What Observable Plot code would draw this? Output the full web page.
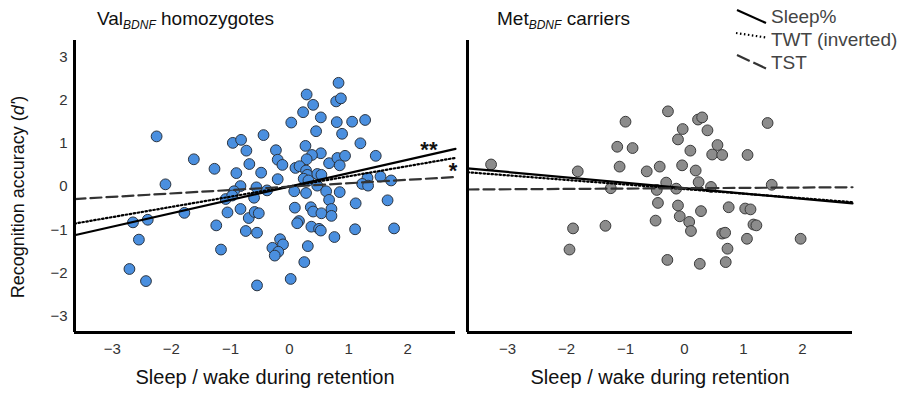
<!DOCTYPE html>
<html>
<head>
<meta charset="utf-8">
<script src="https://cdn.jsdelivr.net/npm/d3@7"></script>
<script src="https://cdn.jsdelivr.net/npm/@observablehq/plot@0.6"></script>
<style>
  body { margin: 0; background: #fff; }
  #chart { position: relative; width: 898px; height: 394px; overflow: hidden; font-family: "Liberation Sans", Arial, sans-serif; }
  #chart > svg { position: absolute; top: 0; }
  #overlay { left: 0; pointer-events: none; }
</style>
</head>
<body>
<div id="chart"></div>
<script>
// Sleep/wake index (x) and recognition accuracy d' (y), Val/Val homozygotes
const valX = [-2.25, -2.10, -1.62, -1.27, -0.96, -0.82, -0.73, -0.68, -0.90, -0.83, -0.48, -0.44,
  0.83, 0.29, 0.79, 0.87, 0.40, 0.23, 0.53, 0.03, 0.80, 1.06, 1.28, 0.45, 0.89,
  -0.23, -0.20, -0.12, -0.20, 0.27, 0.53, 0.38, 0.29, 0.67, 0.81, 0.94, 0.85, 1.20, 1.46,
  0.10, 0.17, 0.28, 0.30, 0.24, 0.47, 0.54, 0.32, 1.32, 1.54, 1.72, 1.23, 1.33,
  -0.56, -0.94, -0.38, -1.08, -0.97, -0.60, 0.08, 0.28, 0.47, 0.62, 0.85, 0.67, 1.12, 1.66,
  -1.05, -0.83, -0.69, -0.59, -0.52, -1.24, -0.74, -0.55, -1.16,
  0.09, 0.36, 0.40, 0.54, 0.71, 0.71, 0.16, 0.13, 0.37, 0.50, 0.53, 0.76, 1.11,
  -0.16, -0.11, -0.29, -0.19, -0.25, 0.31, 0.25, 0.02, -0.55, 1.77,
  -2.65, -2.40, -2.55, -2.71, -2.43, -1.78];
const valY = [1.16, 0.05, 0.63, 0.41, 1.01, 1.08, 0.83, 0.52, 0.31, 0.01, 0.32, 1.19,
  2.40, 2.13, 1.97, 2.04, 1.89, 1.72, 1.60, 1.48, 1.49, 1.50, 1.54, 1.28, 1.22,
  0.84, 0.62, 0.50, 0.17, 0.94, 0.77, 0.73, 0.63, 0.54, 0.66, 0.71, 0.49, 1.00, 0.71,
  0.43, 0.47, 0.37, 0.27, 0.18, 0.29, 0.27, 0.14, 0.20, 0.23, 0.14, 0.06, 0.02,
  -0.02, -0.11, -0.09, -0.29, -0.21, -0.26, -0.11, -0.15, 0.02, -0.11, -0.13, -0.31, -0.39, -0.32,
  -0.60, -0.52, -0.73, -0.59, -0.62, -0.90, -1.03, -1.07, -1.46,
  -0.49, -0.48, -0.58, -0.62, -0.52, -0.68, -0.80, -0.85, -0.93, -0.98, -1.02, -1.17, -0.99,
  -1.22, -1.34, -1.42, -1.51, -1.60, -1.38, -1.75, -2.14, -2.29, -0.97,
  -0.83, -0.77, -1.23, -1.91, -2.19, -0.61];

// Met carriers
const metX = [-3.28, -0.28, -1.00, 0.23, 0.30, -0.03, 0.39, 1.41, -0.11, -1.14, -0.88, 0.56, 0.10,
  0.47, 0.64, 1.07, -1.81, -1.10, -0.64, -0.42, -0.04, 0.19, -0.31, 0.24, 0.45, 1.48,
  -1.25, -0.47, -0.14, -0.45, -0.11, 0.28, 0.75, 1.03, 1.12, -0.08, -0.49, 0.08, 0.11,
  -1.89, -1.34, 1.17, 1.22, 0.64, 0.69, 1.06, 1.97, 0.73, -1.95, -0.29, 0.26, 0.70];
const metY = [0.51, 1.74, 1.50, 1.55, 1.60, 1.33, 1.30, 1.47, 1.09, 0.92, 0.89, 0.96, 0.83,
  0.74, 0.73, 0.73, 0.35, 0.46, 0.35, 0.46, 0.49, 0.37, 0.09, 0.10, -0.01, 0.04,
  -0.04, -0.08, -0.05, -0.38, -0.44, -0.57, -0.48, -0.51, -0.53, -0.69, -0.79, -0.82, -1.03,
  -0.97, -0.91, -0.88, -0.90, -1.09, -1.07, -1.21, -1.21, -1.44, -1.46, -1.70, -1.79, -1.75];

// Linear fits of d' on each sleep measure: Sleep%, TWT (inverted), TST
const fitNames = ["Sleep%", "TWT (inverted)", "TST"];
const valSlopes = [0.31, 0.236, 0.079];
const valIntercepts = [0.0, 0.0, -0.003];
const metSlopes = [-0.124, -0.106, 0.008];
const metIntercepts = [-0.036, -0.06, -0.04];

// Significance markers at the right end of the Val fits
const sigLabels = ["**", "*"];
const sigFit = [0, 1];
const sigX = [2.36, 2.77];

const xTicks = [-3, -2, -1, 0, 1, 2];
const yTicks = [-3, -2, -1, 0, 1, 2, 3];
const xTitle = "Sleep / wake during retention";

const yDomain = [-3.38, 3.38];
const lineStyle = [
  {stroke: "#000", strokeWidth: 2.2, strokeDasharray: null},
  {stroke: "#000", strokeWidth: 2.2, strokeDasharray: "1.5,2.5"},
  {stroke: "#333", strokeWidth: 2.2, strokeDasharray: "11,5"}
];

function panel({xs, ys, slopes, intercepts, xDomain, fill, stroke, width, marginLeft, marginRight, showY, sig}) {
  const pts = xs.map((x, i) => ({x, y: ys[i]}));
  const fitMarks = slopes.map((b, k) => {
    const seg = xDomain.map(x => ({x, y: intercepts[k] + b * x}));
    return Plot.line(seg, {x: "x", y: "y", ...lineStyle[k]});
  });
  const marks = [
    Plot.dot(pts, {x: "x", y: "y", r: 5.4, fill, stroke, strokeWidth: 1}),
    ...fitMarks,
    Plot.ruleX([xDomain[0]], {strokeWidth: 3, stroke: "#000"}),
    Plot.ruleY([yDomain[0]], {strokeWidth: 3, stroke: "#000"}),
    Plot.axisX(xTicks, {tickSize: 0, tickPadding: 11, fontSize: 15, fill: "#333", label: null,
      fontFamily: "'Liberation Sans Narrow', 'Liberation Sans', sans-serif"}),
    Plot.text([xTitle], {frameAnchor: "bottom", dy: 51, fontSize: 20, fill: "#111"})
  ];
  if (showY) {
    marks.push(Plot.axisY(yTicks, {tickSize: 0, tickPadding: 7, fontSize: 15, fill: "#333", label: null,
      fontFamily: "'Liberation Sans Narrow', 'Liberation Sans', sans-serif"}));
  }
  if (sig) {
    const sd = sig.labels.map((t, i) => ({t, x: sig.x[i], y: intercepts[sig.fit[i]] + slopes[sig.fit[i]] * sig.x[i], dy: i === 0 ? -5 : 13}));
    sd.forEach(d => marks.push(Plot.text([d], {x: "x", y: "y", text: "t", dy: d.dy, fontSize: 22, fill: "#111", fontWeight: "bold"})));
  }
  return Plot.plot({
    width, height: 394,
    marginLeft, marginRight, marginTop: 40, marginBottom: 62,
    style: {background: "transparent", fontFamily: "'Liberation Sans', Arial, sans-serif"},
    x: {domain: xDomain},
    y: {domain: yDomain, axis: showY ? undefined : null},
    marks
  });
}

const chart = document.getElementById("chart");

const left = panel({xs: valX, ys: valY, slopes: valSlopes, intercepts: valIntercepts,
  xDomain: [-3.64, 2.81], fill: "#4a8fdf", stroke: "#2b3440", width: 460, marginLeft: 74, marginRight: 5,
  showY: true, sig: {labels: sigLabels, fit: sigFit, x: sigX}});
left.style.left = "0px";
chart.appendChild(left);

const right = panel({xs: metX, ys: metY, slopes: metSlopes, intercepts: metIntercepts,
  xDomain: [-3.68, 2.85], fill: "#8c8c8c", stroke: "#3a3a3a", width: 438, marginLeft: 7, marginRight: 46,
  showY: false});
right.style.left = "460px";
chart.appendChild(right);

// Panel titles, y-axis title and legend
const ns = "http://www.w3.org/2000/svg";
const ov = document.createElementNS(ns, "svg");
ov.setAttribute("id", "overlay");
ov.setAttribute("width", 898);
ov.setAttribute("height", 394);
ov.innerHTML = `
  <g font-family="'Liberation Sans', Arial, sans-serif" fill="#111">
    <text x="97" y="25" font-size="19">Val<tspan font-size="12" font-style="italic" dy="4">BDNF</tspan><tspan dy="-4"> homozygotes</tspan></text>
    <text x="497" y="25" font-size="19">Met<tspan font-size="12" font-style="italic" dy="4">BDNF</tspan><tspan dy="-4"> carriers</tspan></text>
    <text transform="translate(24,197) rotate(-90)" text-anchor="middle" font-size="18">Recognition accuracy (<tspan font-style="italic">d'</tspan>)</text>
  </g>
  <g stroke="#000" stroke-width="2.2" fill="none">
    <line x1="737" y1="10" x2="766" y2="23"/>
    <line x1="736" y1="33" x2="766" y2="37.5" stroke-dasharray="1.5,2.5"/>
    <line x1="737" y1="55" x2="766" y2="68.5" stroke="#333" stroke-dasharray="14,4"/>
  </g>
  <g font-family="'Liberation Sans', Arial, sans-serif" font-size="19" fill="#444">
    <text x="771" y="23">${fitNames[0]}</text>
    <text x="771" y="46">${fitNames[1]}</text>
    <text x="771" y="69">${fitNames[2]}</text>
  </g>`;
chart.appendChild(ov);
</script>
</body>
</html>
